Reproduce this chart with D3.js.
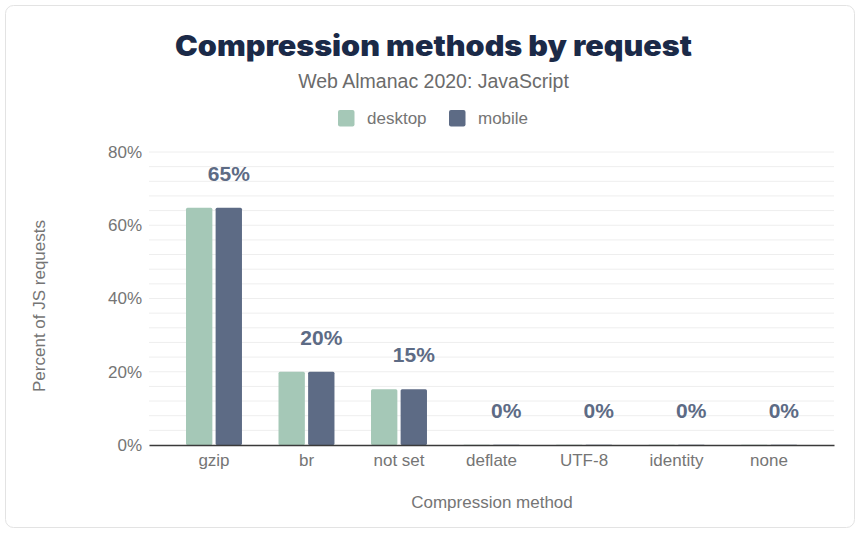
<!DOCTYPE html>
<html><head><meta charset="utf-8">
<script src="https://cdn.jsdelivr.net/npm/d3@7"></script>
<style>
body{margin:0;background:#fff;}
svg{display:block;}
svg text{font-family:"Liberation Sans",Arial,Helvetica,sans-serif;}
</style></head>
<body>
<svg id="c" width="860" height="533"></svg>
<script>
const categories = ["gzip","br","not set","deflate","UTF-8","identity","none"];
const desktop = [64.8, 20.0, 15.2, 0.1, 0.1, 0.1, 0.1];
const mobile  = [64.8, 20.0, 15.2, 0.1, 0.1, 0.1, 0.1];
const labels  = ["65%","20%","15%","0%","0%","0%","0%"];
const seriesNames = ["desktop","mobile"];
const colors = ["#a5c8b7","#5d6b85"];
const yTicks = [0,20,40,60,80];

(function(){
const svg = d3.select("#c");
svg.append("rect").attr("x",5.5).attr("y",5.5).attr("width",849).attr("height",522)
  .attr("rx",8).attr("fill","#fff").attr("stroke","#e3e3e3");

const pLeft=149, pRight=834, pTop=152, pBottom=445;
const x = d3.scaleBand().domain(categories).range([pLeft,pRight]).paddingInner(0.395).paddingOuter(0.40);
const xs = d3.scaleBand().domain(seriesNames).range([0,x.bandwidth()]).paddingInner(0.11);
const y = d3.scaleLinear().domain([0,80]).range([pBottom,pTop]);

const g = svg.append("g");
g.selectAll("line.grid").data(d3.range(4,81,4)).join("line")
  .attr("x1",pLeft).attr("x2",pRight).attr("y1",d=>y(d)).attr("y2",d=>y(d))
  .attr("stroke","#eeeeee").attr("stroke-width",1);

const yAxis = d3.axisLeft(y).tickValues(yTicks).tickFormat(d=>d+"%").tickSize(0).tickPadding(7);
const ya = svg.append("g").attr("transform",`translate(${pLeft},0)`).call(yAxis);
ya.select(".domain").remove();
ya.selectAll("text").attr("fill","#757575").style("font-size","17px").style("font-family","'Liberation Sans',Arial,sans-serif");

const rows = categories.map((c,i)=>({c, vals:[desktop[i],mobile[i]], label:labels[i]}));
const grp = svg.append("g").selectAll("g").data(rows).join("g")
  .attr("transform",d=>`translate(${x(d.c)},0)`);
grp.selectAll("rect").data(d=>d.vals.map((v,j)=>({v,j}))).join("rect")
  .attr("x",d=>xs(seriesNames[d.j])).attr("width",xs.bandwidth())
  .attr("y",d=>y(d.v)).attr("height",d=>Math.max(0,pBottom-y(d.v)))
  .attr("rx",1.5).attr("fill",d=>colors[d.j]);
grp.append("text").attr("x",xs("mobile")+xs.bandwidth()/2)
  .attr("y",d=>y(Math.max(...d.vals))-27)
  .attr("text-anchor","middle").attr("fill","#5d6b85")
  .style("font-size","21px").style("font-weight","bold").text(d=>d.label);

const xAxis = d3.axisBottom(x).tickSize(0).tickPadding(9);
const xa = svg.append("g").attr("transform",`translate(0,${pBottom})`).call(xAxis);
xa.select(".domain").attr("stroke","#3a3a3a").attr("stroke-width",1.5);
xa.selectAll("text").attr("fill","#757575").style("font-size","17px").style("font-family","'Liberation Sans',Arial,sans-serif");

svg.append("text").attr("x",433.5).attr("y",56).attr("text-anchor","middle")
  .attr("fill","#1b2a48").style("font-family","Inter, 'DejaVu Sans', sans-serif")
  .style("font-weight","900").style("font-size","28px")
  .attr("textLength",517).attr("lengthAdjust","spacingAndGlyphs")
  .text("Compression methods by request");
svg.append("text").attr("x",433.5).attr("y",88).attr("text-anchor","middle")
  .attr("fill","#6b6b6b").style("font-size","19.5px").text("Web Almanac 2020: JavaScript");

const leg = [{n:"desktop",x:338},{n:"mobile",x:449}];
const lg = svg.append("g");
leg.forEach((d,i)=>{
  lg.append("rect").attr("x",d.x).attr("y",110).attr("width",16.5).attr("height",16.5).attr("rx",2).attr("fill",colors[i]);
  lg.append("text").attr("x",d.x+29).attr("y",123.5).attr("fill","#757575").style("font-size","17px").text(d.n);
});

svg.append("text").attr("transform","translate(45,306) rotate(-90)").attr("text-anchor","middle")
  .attr("fill","#757575").style("font-size","17px").text("Percent of JS requests");
svg.append("text").attr("x",492).attr("y",508).attr("text-anchor","middle")
  .attr("fill","#757575").style("font-size","17px").text("Compression method");
})();
</script>
</body></html>
